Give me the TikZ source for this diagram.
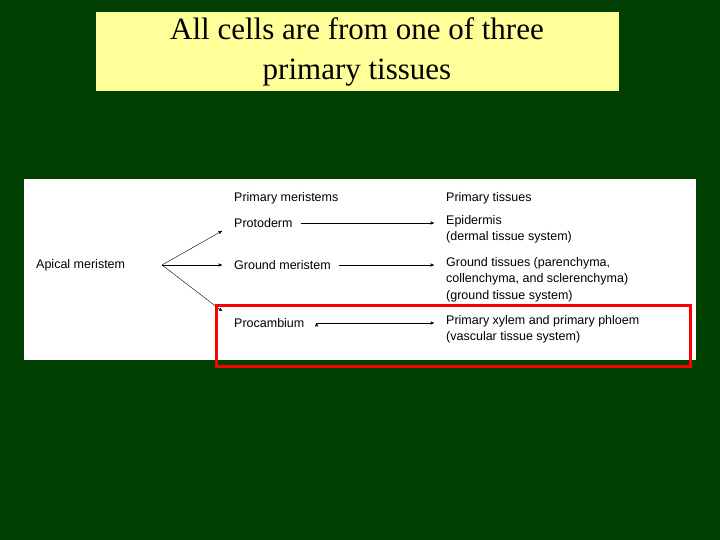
\documentclass[tikz,border=0pt]{standalone}
\usepackage{fontspec}
\setmainfont{Liberation Serif}
\setsansfont{Liberation Sans}
\usetikzlibrary{arrows}
\definecolor{slidegreen}{RGB}{0,64,0}
\definecolor{titleyellow}{RGB}{255,255,153}
\begin{document}
\begin{tikzpicture}[x=1pt,y=-1pt,->,>=stealth',thin,
  label node/.style={anchor=west,inner sep=0pt,font=\sffamily\fontsize{12.5}{16.5}\selectfont,align=left}]
  \fill[slidegreen] (0,0) rectangle (720,540);
  \fill[titleyellow] (96,12) rectangle (619,91);
  \node[font=\fontsize{31}{40}\selectfont,align=center] (title) at (357,52) {All cells are from one of three\\primary tissues};
  \fill[white] (24,179) rectangle (696,360);

  \node[label node] (apical) at (36,265) {Apical meristem};
  \node[label node] (meristems) at (234,198) {Primary meristems};
  \node[label node] (tissues) at (446,198) {Primary tissues};
  \node[label node] (proto) at (234,223) {Protoderm};
  \node[label node] (ground) at (234,265) {Ground meristem};
  \node[label node] (procamb) at (234,323) {Procambium};
  \node[label node,anchor=north west] (epi) at (446,215) {Epidermis\\(dermal tissue system)};
  \node[label node,anchor=north west] (gtiss) at (446,257) {Ground tissues (parenchyma,\\collenchyma, and sclerenchyma)\\(ground tissue system)};
  \node[label node,anchor=north west] (vasc) at (446,315) {Primary xylem and primary phloem\\(vascular tissue system)};

  \coordinate (fork) at (162,265);
  \path[draw,black]
  (fork) edge (222,231)
  (fork) edge (222,265)
  (fork) edge (222,311)
  (proto.east) ++(8,0) edge (434,223)
  (ground.east) ++(8,0) edge (434,265)
  (procamb.east) ++(12,0) edge (434,323);
  \draw[-,red,line width=3pt] (216,305) rectangle (690,366);
\end{tikzpicture}
\end{document}
